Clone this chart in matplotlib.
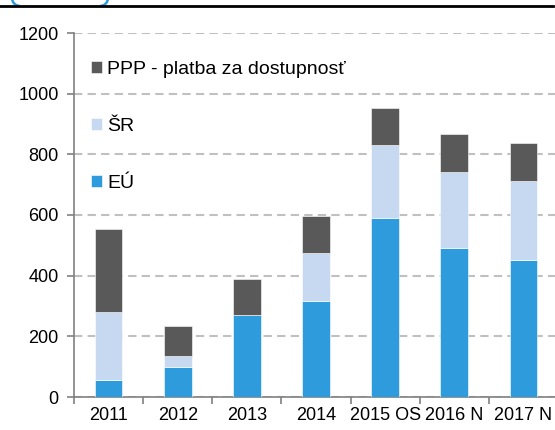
"""Stacked bar chart: financing sources 2011-2017 (EÚ, ŠR, PPP)."""
import numpy as np
import matplotlib
matplotlib.use("Agg")
import matplotlib.pyplot as plt
from matplotlib.lines import Line2D
from matplotlib.patches import Arc

plt.rcParams["font.family"] = ["Liberation Sans", "DejaVu Sans"]

years = ["2011", "2012", "2013", "2014", "2015 OS", "2016 N", "2017 N"]
eu = [55, 98, 270, 317, 591, 492, 452]
sr = [225, 38, 0, 158, 240, 249, 261]
ppp = [274, 99, 119, 122, 122, 126, 125]

labels = ["EÚ", "ŠR", "PPP - platba za dostupnosť"]
colors = ["#2E9BDC", "#C6D9F1", "#595959"]

fig = plt.figure(figsize=(5.55, 4.30), dpi=100)
ax = fig.add_axes([74 / 555, 1 - 397 / 430, 484 / 555, 364 / 430])

x = np.arange(len(years))
bottom = np.zeros(len(years))
handles = []
for vals, lab, col in zip([eu, sr, ppp], labels, colors):
    h = ax.bar(x, vals, width=0.4, bottom=bottom, color=col, label=lab,
               edgecolor="white", linewidth=0.4, zorder=3)
    handles.append(h)
    bottom += np.array(vals)

ax.set_ylim(0, 1200)
ax.set_xlim(-0.5, 6.5)
ax.set_yticks(range(0, 1201, 200))
ax.yaxis.grid(True, color="#C0C0C0", linestyle=(0, (4, 2.5)), linewidth=1.5, zorder=0)
ax.set_axisbelow(True)

ax.set_xticks(x)
ax.set_xticklabels(years)
ax.set_xticks(np.arange(-0.5, 6.6, 1), minor=True)
ax.tick_params(axis="x", which="major", length=0, pad=7, labelsize=13)
ax.tick_params(axis="x", which="minor", length=5, width=1.2, color="#808080")
ax.tick_params(axis="y", length=5, width=1.2, color="#808080", labelsize=13, pad=6)

for side in ["top", "right"]:
    ax.spines[side].set_visible(False)
for side in ["left", "bottom"]:
    ax.spines[side].set_color("#808080")
    ax.spines[side].set_linewidth(1.2)

leg = ax.legend(handles[::-1], labels[::-1], loc="upper left",
                bbox_to_anchor=(0.01, 0.955), frameon=False, fontsize=14,
                handlelength=0.6, handleheight=0.6, handletextpad=0.25,
                labelspacing=2.05, borderaxespad=0.2)

# header rule and the clipped corners of a title box above the chart
fig.add_artist(Line2D([0, 553 / 555], [1 - 5.5 / 430] * 2, color="black", lw=2))
for cx, t1, t2 in [(20, 180, 270), (100, 270, 360)]:
    fig.add_artist(Arc((cx / 555, 1 + 2 / 430), 16 / 555, 16 / 430,
                       theta1=t1, theta2=t2, color="#2E9BDC", lw=1.8,
                       transform=fig.transFigure))

fig.savefig("out.png", dpi=100)
